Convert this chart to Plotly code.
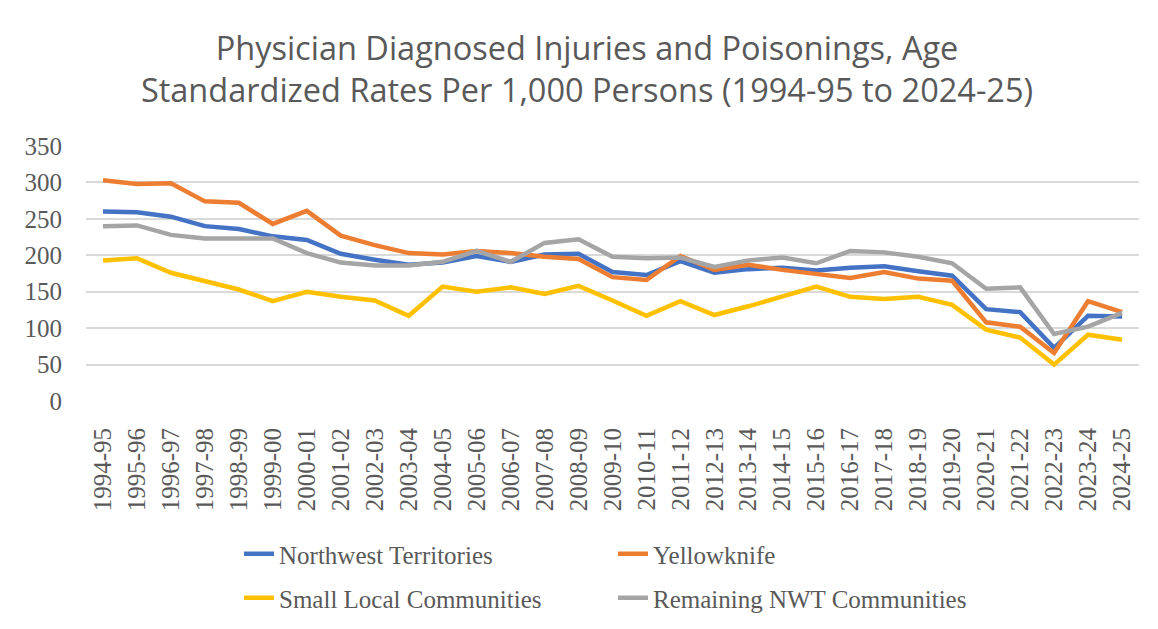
import plotly.graph_objects as go

categories = ["1994-95", "1995-96", "1996-97", "1997-98", "1998-99", "1999-00", "2000-01",
              "2001-02", "2002-03", "2003-04", "2004-05", "2005-06", "2006-07", "2007-08",
              "2008-09", "2009-10", "2010-11", "2011-12", "2012-13", "2013-14", "2014-15",
              "2015-16", "2016-17", "2017-18", "2018-19", "2019-20", "2020-21", "2021-22",
              "2022-23", "2023-24", "2024-25"]

nwt = [260, 259, 253, 240, 236, 226, 221, 202, 194, 187, 190, 199, 191, 201, 202, 177,
       173, 192, 176, 181, 183, 179, 183, 185, 178, 172, 126, 122, 73, 117, 116]
yellowknife = [303, 298, 299, 274, 272, 243, 261, 227, 214, 203, 201, 206, 203, 198, 195, 170,
               166, 199, 180, 187, 180, 174, 169, 177, 168, 165, 108, 102, 66, 137, 122]
small_local = [193, 196, 176, 165, 153, 137, 150, 143, 138, 117, 157, 150, 156, 147, 158, 138,
               117, 137, 118, 130, 143, 157, 143, 140, 143, 132, 98, 87, 50, 91, 84]
remaining = [240, 241, 228, 223, 223, 223, 203, 190, 186, 186, 191, 206, 191, 217, 222, 198,
             196, 197, 184, 193, 197, 189, 206, 204, 198, 189, 154, 156, 92, 102, 121]

y_ticks = [0, 50, 100, 150, 200, 250, 300, 350]

TEXT = "#595959"
SERIF = "Liberation Serif"

# the page body adds an 8px margin, so work in page pixels and shift by OFF
OFF = 8
W, H = 1158 - OFF, 629 - OFF
L, T = 86 - OFF, 146 - OFF
R, B = 19, 228
pw, ph = W - L - R, H - T - B

def px_x(p):  # page pixel -> paper x
    return (p - OFF - L) / pw

def px_y(p):  # page pixel -> paper y
    return (H - B - (p - OFF)) / ph

fig = go.Figure()
series = [
    ("Northwest Territories", nwt, "#4472C4", "legend"),
    ("Yellowknife", yellowknife, "#ED7D31", "legend"),
    ("Small Local Communities", small_local, "#FFC000", "legend2"),
    ("Remaining NWT Communities", remaining, "#A5A5A5", "legend2"),
]
for name, vals, color, lg in series:
    fig.add_trace(go.Scatter(x=categories, y=vals, name=name, mode="lines",
                             line=dict(color=color, width=4.5), legend=lg))

legend_common = dict(orientation="h", xanchor="left", yanchor="middle",
                     font=dict(family=SERIF, size=25, color=TEXT),
                     bgcolor="rgba(0,0,0,0)", entrywidth=329, entrywidthmode="pixels",
                     itemwidth=30)

fig.update_layout(
    width=W, height=H,
    margin=dict(l=L, r=R, t=T, b=B, autoexpand=False),
    paper_bgcolor="white", plot_bgcolor="white",
    title=dict(text="Physician Diagnosed Injuries and Poisonings, Age<br>Standardized Rates Per 1,000 Persons (1994-95 to 2024-25)",
               x=(587 - OFF) / W, xanchor="center", xref="container",
               y=1 - (60 - OFF) / H, yanchor="middle",
               font=dict(family="Open Sans", size=32.5, color=TEXT)),
    legend=dict(x=px_x(239), y=px_y(554), **legend_common),
    legend2=dict(x=px_x(239), y=px_y(598), **legend_common),
    xaxis=dict(type="category", range=[-0.5, len(categories) - 0.5],
               showgrid=False, showline=False, zeroline=False,
               tickangle=-90, ticks="outside", ticklen=16, tickcolor="rgba(0,0,0,0)",
               tickfont=dict(family=SERIF, size=25, color=TEXT)),
    yaxis=dict(range=[0, 350], tickvals=y_ticks, showgrid=True, gridcolor="#D9D9D9",
               gridwidth=1.5, zeroline=False, showline=False,
               ticks="outside", ticklen=18, tickcolor="rgba(0,0,0,0)",
               tickfont=dict(family=SERIF, size=25, color=TEXT)),
    shapes=[dict(type="rect", xref="paper", yref="paper",
                 x0=px_x(6), x1=px_x(1157), y0=px_y(660), y1=px_y(2),
                 line=dict(color="#D9D9D9", width=1), fillcolor="rgba(0,0,0,0)", layer="below")],
)

fig.write_html("out.html")
